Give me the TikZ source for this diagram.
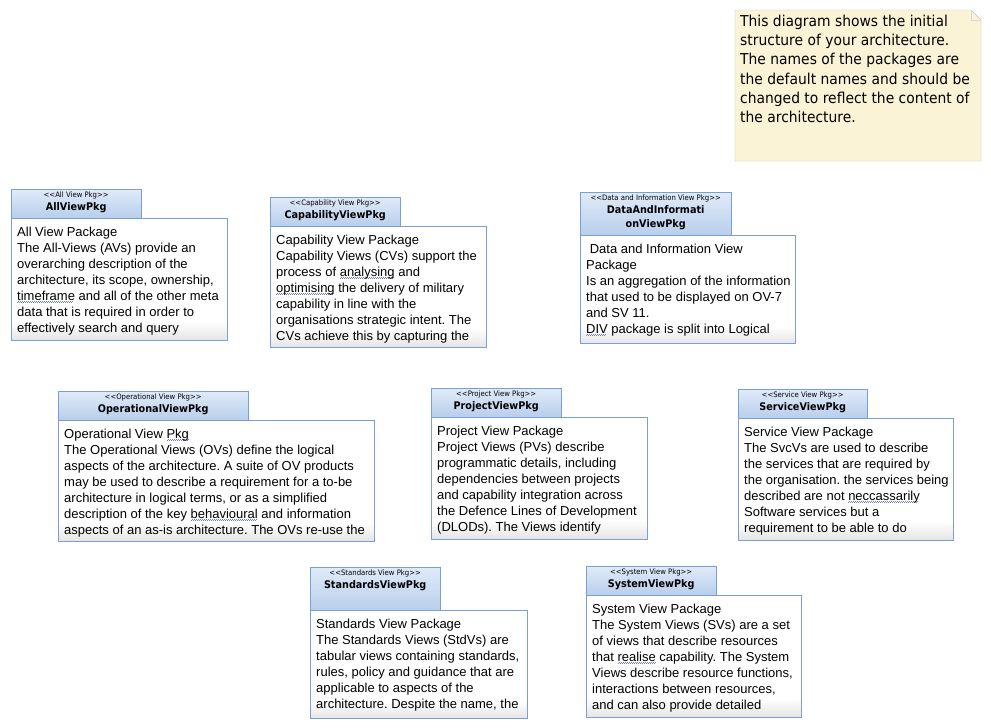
\documentclass[tikz,border=0pt]{standalone}
\usepackage{fontspec}
\setmainfont{Liberation Sans}
\newfontfamily\notefont[FakeStretch=0.925]{DejaVu Sans}
\newfontfamily\tabfont[FakeStretch=0.92]{DejaVu Sans}
\usetikzlibrary{positioning}
\definecolor{tabtop}{RGB}{224,235,249}
\definecolor{tabbot}{RGB}{184,206,235}
\definecolor{pkgline}{RGB}{122,160,210}
\definecolor{bodybot}{RGB}{228,228,228}
\definecolor{notefill}{RGB}{251,243,214}
\definecolor{noteline}{RGB}{192,192,192}
\definecolor{squig}{RGB}{120,130,160}
\pgfdeclareverticalshading{pkgbodyshade}{100bp}{color(0bp)=(bodybot); color(25bp)=(bodybot); color(33bp)=(white); color(100bp)=(white)}
\newsavebox\spellbox
\newcommand\spellword[1]{\sbox\spellbox{#1}\rlap{\textcolor{squig}{\raisebox{-2.6pt}{\hbox to\wd\spellbox{\leaders\hbox{\rule{1pt}{0.6pt}\raisebox{0.6pt}{\rule{1pt}{0.6pt}}}\hfil}}}}\usebox\spellbox}
\frenchspacing
\begin{document}
\begin{tikzpicture}[
    x=1pt, y=-1pt,
    pkgtab/.style={draw=pkgline, top color=tabtop, bottom color=tabbot,
        anchor=north west, inner sep=0pt},
    pkgbody/.style={draw=pkgline, shading=pkgbodyshade, anchor=north west, inner sep=0pt},
    stereo/.style={font=\tabfont\fontsize{7.5}{8}\selectfont, inner sep=0pt, anchor=north},
    pkgname/.style={font=\tabfont\bfseries\fontsize{10.5}{14}\selectfont, inner sep=0pt, align=center},
    pkgtext/.style={font=\frenchspacing\fontsize{13}{16}\selectfont, inner sep=0pt, anchor=north west, align=left}]
    \useasboundingbox[fill=white] (0,0) rectangle (991,728);
    % note
    \fill[notefill] (735,10) -- (971,10) -- (981,20) -- (981,161) -- (735,161) -- cycle;
    \draw[noteline] (735,10) -- (971,10) -- (981,20) -- (981,161) -- (735,161) -- cycle;
    \draw[noteline!60] (971,10) -- (971,20) -- (981,20);
    \node[font=\notefont\fontsize{15}{19.2}\selectfont, inner sep=0pt, anchor=north west, align=left]
        (note) at (740,15) {This diagram shows the initial\\structure of your architecture.\\The names of the packages are\\the default names and should be\\changed to reflect the content of\\the architecture.};
    % all view
    \node[pkgtab, minimum width=130, minimum height=29] (alltab) at (11,189) {};
    \node[stereo] (allst) at ([yshift=-3pt]alltab.north) {{<}{<}All View Pkg{>}{>}};
    \node[pkgname, below=3pt of allst] (allnm) {AllViewPkg};
    \node[pkgbody, minimum width=216, minimum height=122] (allbody) at (alltab.south west) {};
    \node[pkgtext] (alltxt) at ([shift={(6pt,-8pt)}]allbody.north west)
        {All View Package\\The All-Views (AVs) provide an\\overarching description of the\\architecture, its scope, ownership,\\\spellword{timeframe} and all of the other meta\\data that is required in order to\\effectively search and query};
    % capability view
    \node[pkgtab, minimum width=130, minimum height=29] (captab) at (270,197) {};
    \node[stereo] (capst) at ([yshift=-3pt]captab.north) {{<}{<}Capability View Pkg{>}{>}};
    \node[pkgname, below=3pt of capst] (capnm) {CapabilityViewPkg};
    \node[pkgbody, minimum width=216, minimum height=121] (capbody) at (captab.south west) {};
    \node[pkgtext] (captxt) at ([shift={(6pt,-8pt)}]capbody.north west)
        {Capability View Package\\Capability Views (CVs) support the\\process of \spellword{analysing} and\\\spellword{optimising} the delivery of military\\capability in line with the\\organisations strategic intent. The\\CVs achieve this by capturing the};
    % data and information view
    \node[pkgtab, minimum width=151, minimum height=43] (divtab) at (580,192) {};
    \node[stereo] (divst) at ([yshift=-3pt]divtab.north) {{<}{<}Data and Information View Pkg{>}{>}};
    \node[pkgname, below=3pt of divst] (divnm) {DataAndInformati\\onViewPkg};
    \node[pkgbody, minimum width=215, minimum height=108] (divbody) at (divtab.south west) {};
    \node[pkgtext] (divtxt) at ([shift={(6pt,-8pt)}]divbody.north west)
        {\ Data and Information View\\Package\\Is an aggregation of the information\\that used to be displayed on OV-7\\and SV 11.\\\spellword{DIV} package is split into Logical};
    % operational view
    \node[pkgtab, minimum width=190, minimum height=29] (ovtab) at (58,391) {};
    \node[stereo] (ovst) at ([yshift=-3pt]ovtab.north) {{<}{<}Operational View Pkg{>}{>}};
    \node[pkgname, below=3pt of ovst] (ovnm) {OperationalViewPkg};
    \node[pkgbody, minimum width=316, minimum height=121] (ovbody) at (ovtab.south west) {};
    \node[pkgtext] (ovtxt) at ([shift={(6pt,-8pt)}]ovbody.north west)
        {Operational View \spellword{Pkg}\\The Operational Views (OVs) define the logical\\aspects of the architecture. A suite of OV products\\may be used to describe a requirement for a to-be\\architecture in logical terms, or as a simplified\\description of the key \spellword{behavioural} and information\\aspects of an as-is architecture. The OVs re-use the};
    % project view
    \node[pkgtab, minimum width=130, minimum height=29] (pvtab) at (431,388) {};
    \node[stereo] (pvst) at ([yshift=-3pt]pvtab.north) {{<}{<}Project View Pkg{>}{>}};
    \node[pkgname, below=3pt of pvst] (pvnm) {ProjectViewPkg};
    \node[pkgbody, minimum width=216, minimum height=122] (pvbody) at (pvtab.south west) {};
    \node[pkgtext] (pvtxt) at ([shift={(6pt,-8pt)}]pvbody.north west)
        {Project View Package\\Project Views (PVs) describe\\programmatic details, including\\dependencies between projects\\and capability integration across\\the Defence Lines of Development\\(DLODs). The Views identify};
    % service view
    \node[pkgtab, minimum width=129, minimum height=29] (svctab) at (738,389) {};
    \node[stereo] (svcst) at ([yshift=-3pt]svctab.north) {{<}{<}Service View Pkg{>}{>}};
    \node[pkgname, below=3pt of svcst] (svcnm) {ServiceViewPkg};
    \node[pkgbody, minimum width=215, minimum height=122] (svcbody) at (svctab.south west) {};
    \node[pkgtext] (svctxt) at ([shift={(6pt,-8pt)}]svcbody.north west)
        {Service View Package\\The SvcVs are used to describe\\the services that are required by\\the organisation. the services being\\described are not \spellword{neccassarily}\\Software services but a\\requirement to be able to do};
    % standards view
    \node[pkgtab, minimum width=130, minimum height=43] (stdtab) at (310,567) {};
    \node[stereo] (stdst) at ([yshift=-3pt]stdtab.north) {{<}{<}Standards View Pkg{>}{>}};
    \node[pkgname, below=3pt of stdst] (stdnm) {StandardsViewPkg};
    \node[pkgbody, minimum width=217, minimum height=108] (stdbody) at (stdtab.south west) {};
    \node[pkgtext] (stdtxt) at ([shift={(6pt,-8pt)}]stdbody.north west)
        {Standards View Package\\The Standards Views (StdVs) are\\tabular views containing standards,\\rules, policy and guidance that are\\applicable to aspects of the\\architecture. Despite the name, the};
    % system view
    \node[pkgtab, minimum width=130, minimum height=29] (systab) at (586,566) {};
    \node[stereo] (sysst) at ([yshift=-3pt]systab.north) {{<}{<}System View Pkg{>}{>}};
    \node[pkgname, below=3pt of sysst] (sysnm) {SystemViewPkg};
    \node[pkgbody, minimum width=215, minimum height=122] (sysbody) at (systab.south west) {};
    \node[pkgtext] (systxt) at ([shift={(6pt,-8pt)}]sysbody.north west)
        {System View Package\\The System Views (SVs) are a set\\of views that describe resources\\that \spellword{realise} capability. The System\\Views describe resource functions,\\interactions between resources,\\and can also provide detailed};
\end{tikzpicture}
\end{document}
